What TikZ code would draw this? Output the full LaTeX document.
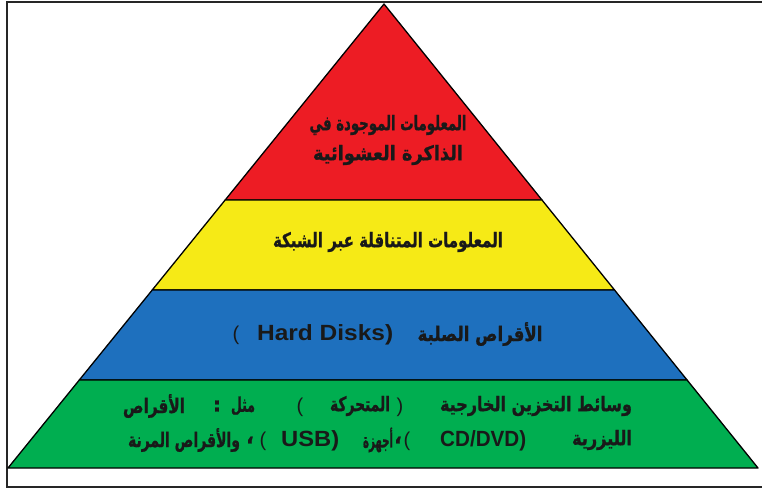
\documentclass[tikz,border=0pt]{standalone}
\usepackage{graphicx}
\usepackage{fontspec}
\setmainfont{Liberation Sans}
\newfontfamily\arabicfont[Script=Arabic, BoldFeatures={FakeBold=1.2}]{DejaVu Sans}
\TeXXeTstate=1
\usetikzlibrary{calc}
\definecolor{layred}{RGB}{237,28,36}
\definecolor{layyellow}{RGB}{246,234,22}
\definecolor{layblue}{RGB}{30,112,190}
\definecolor{laygreen}{RGB}{0,174,80}
\newcommand{\fitw}[2]{\resizebox{#1}{\height}{#2}}
\tikzset{
  layer/.style={draw=black, line width=1.3pt, line join=round},
  ar/.style={inner sep=0pt, font=\arabicfont\bfseries\fontsize{20}{22}\selectfont, text=black!90},
  lat/.style={inner sep=0pt, font=\bfseries\fontsize{22}{24}\selectfont, text=black!90},
  par/.style={inner sep=0pt, font=\fontsize{20}{22}\selectfont, text=black!90}
}
\begin{document}
\begin{tikzpicture}[x=1pt,y=-1pt]
\useasboundingbox (0,0) rectangle (762,492);
\clip (0,0) rectangle (762,492);
\fill[white] (0,0) rectangle (762,492);
% frame
\draw[line width=2pt, black!85] (7,2) rectangle (800,487);
% pyramid corners
\coordinate (A) at (384,4);
\coordinate (BL) at (8,468);
\coordinate (BR) at (758,468);
\coordinate (L1) at ($(A)!0.4224!(BL)$);
\coordinate (R1) at ($(A)!0.4224!(BR)$);
\coordinate (L2) at ($(A)!0.6164!(BL)$);
\coordinate (R2) at ($(A)!0.6164!(BR)$);
\coordinate (L3) at ($(A)!0.8103!(BL)$);
\coordinate (R3) at ($(A)!0.8103!(BR)$);
\filldraw[layer, fill=layred] (A) -- (R1) -- (L1) -- cycle;
\filldraw[layer, fill=layyellow] (L1) -- (R1) -- (R2) -- (L2) -- cycle;
\filldraw[layer, fill=layblue] (L2) -- (R2) -- (R3) -- (L3) -- cycle;
\filldraw[layer, fill=laygreen] (L3) -- (R3) -- (BR) -- (BL) -- cycle;
% red
\node[ar] (r1) at (388,125) {\fitw{157pt}{\beginR المعلومات الموجودة في\endR}};
\node[ar] (r2) at (388,155) {\fitw{150pt}{\beginR الذاكرة العشوائية\endR}};
% yellow
\node[ar] (y1) at (388,242) {\fitw{230pt}{\beginR المعلومات المتناقلة عبر الشبكة\endR}};
% blue
\node[par] (b1) at (236,335) {(};
\node[lat, anchor=west] (b2) at (257,335) {\fitw{136pt}{Hard Disks)}};
\node[ar] (b3) at (480,334) {\fitw{125pt}{\beginR الأقراص الصلبة\endR}};
% green line 1
\node[ar] (g1) at (154,406) {\fitw{62pt}{الأقراص}};
\node[ar] (g2) at (217,406) {:};
\node[ar] (g3) at (243,406) {\fitw{24pt}{مثل}};
\node[par] (g4) at (300,407) {(};
\node[ar] (g5) at (360,406) {\fitw{60pt}{المتحركة}};
\node[par] (g6) at (400,407) {)};
\node[ar] (g7) at (536,406) {\fitw{192pt}{\beginR وسائط التخزين الخارجية\endR}};
% green line 2
\node[ar] (h1) at (184,440) {\fitw{112pt}{\beginR والأقراص المرنة\endR}};
\node[ar] (h2) at (250,440) {،};
\node[par] (h3) at (263,441) {(};
\node[lat, anchor=west] (h4) at (281,441) {\fitw{58pt}{USB)}};
\node[ar] (h5) at (378,440) {\fitw{30pt}{أجهزة}};
\node[ar] (h6) at (398,440) {،};
\node[par] (h7) at (407,441) {(};
\node[lat, anchor=west] (h8) at (440,441) {\fitw{86pt}{CD/DVD)}};
\node[ar] (h9) at (602,440) {\fitw{60pt}{الليزرية}};
\end{tikzpicture}
\end{document}
